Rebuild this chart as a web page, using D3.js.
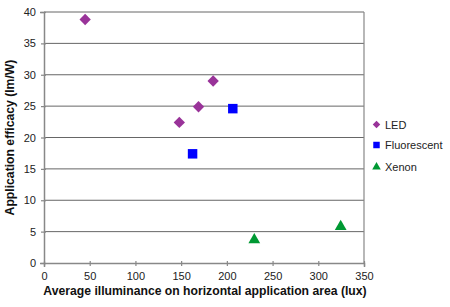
<!DOCTYPE html>
<html><head><meta charset="utf-8">
<script src="https://cdn.jsdelivr.net/npm/d3@7"></script>
<style>body{margin:0;background:#fff}svg{display:block}text{font-family:"Liberation Sans",Arial,sans-serif}</style>
</head><body><svg id="c" width="450" height="307"></svg>
<script>
const seriesNames = ["LED", "Fluorescent", "Xenon"];
const ledX = [45, 148, 169, 185];
const ledY = [38.8, 22.4, 24.9, 29.0];
const fluoX = [162.5, 206.5];
const fluoY = [17.4, 24.6];
const xenonX = [230, 324.5];
const xenonY = [3.7, 5.8];
const xTicks = [0, 50, 100, 150, 200, 250, 300, 350];
const yTicks = [0, 5, 10, 15, 20, 25, 30, 35, 40];
const colors = ["#993399", "#0000ff", "#009933"];
const shapes = [d3.symbolSquare, d3.symbolSquare, d3.symbolTriangle];
const rotations = [45, 0, 0];

const svg = d3.select("#c");
const L = 44, R = 364, T = 12, B = 263;
const x = d3.scaleLinear().domain([0, 350]).range([L, R]);
const y = d3.scaleLinear().domain([0, 40]).range([B, T]);

// gridlines
svg.append("g").selectAll("line").data(yTicks.filter(d => d > 0)).join("line")
  .attr("x1", L).attr("x2", R).attr("y1", d => y(d)).attr("y2", d => y(d))
  .attr("stroke", "#666").attr("stroke-width", 1);
// right border
svg.append("line").attr("x1", R).attr("x2", R).attr("y1", T).attr("y2", B)
  .attr("stroke", "#888").attr("stroke-width", 1.2);

const xAxis = svg.append("g").attr("transform", `translate(0,${B})`)
  .call(d3.axisBottom(x).tickValues(xTicks).tickSize(4).tickPadding(5));
const yAxis = svg.append("g").attr("transform", `translate(${L},0)`)
  .call(d3.axisLeft(y).tickValues(yTicks).tickSize(4).tickPadding(4));
[xAxis, yAxis].forEach(a => {
  a.select(".domain").attr("stroke", "#888").attr("stroke-width", 1.5);
  a.selectAll(".tick line").attr("stroke", "#888").attr("stroke-width", 1.2);
  a.selectAll(".tick text").attr("font-size", 11).attr("fill", "#222")
   .style("font-family", '"Liberation Sans",Arial,sans-serif');
});
xAxis.selectAll(".tick line").attr("y1", -2).attr("y2", 3);
yAxis.selectAll(".tick line").attr("x1", 2).attr("x2", -3);

const series = [
  {xs: ledX, ys: ledY, size: 64},
  {xs: fluoX, ys: fluoY, size: 90},
  {xs: xenonX, ys: xenonY, size: 60}
];
series.forEach((s, i) => {
  svg.append("g").selectAll("path").data(s.xs.map((v, j) => [v, s.ys[j]])).join("path")
    .attr("d", d3.symbol().type(shapes[i]).size(s.size))
    .attr("transform", d => `translate(${x(d[0])},${y(d[1])}) rotate(${rotations[i]})`)
    .attr("fill", colors[i]);
});

// legend
const lg = svg.append("g");
const legY = [124.5, 145, 167];
const legSize = [28, 42, 32];
seriesNames.forEach((n, i) => {
  lg.append("path").attr("d", d3.symbol().type(shapes[i]).size(legSize[i]))
    .attr("transform", `translate(376.5,${legY[i]}) rotate(${rotations[i]})`).attr("fill", colors[i]);
  lg.append("text").attr("x", 385).attr("y", legY[i] + 4).attr("font-size", 11)
    .attr("fill", "#222").text(n);
});

svg.append("text").attr("x", (L + R) / 2 + 1).attr("y", 295).attr("text-anchor", "middle")
  .attr("font-size", 12.2).attr("font-weight", "bold").attr("fill", "#111")
  .text("Average illuminance on horizontal application area (lux)");
svg.append("text").attr("transform", `translate(14,${(T + B) / 2}) rotate(-90)`)
  .attr("text-anchor", "middle").attr("font-size", 12.2).attr("font-weight", "bold").attr("fill", "#111")
  .text("Application efficacy (lm/W)");
</script></body></html>
